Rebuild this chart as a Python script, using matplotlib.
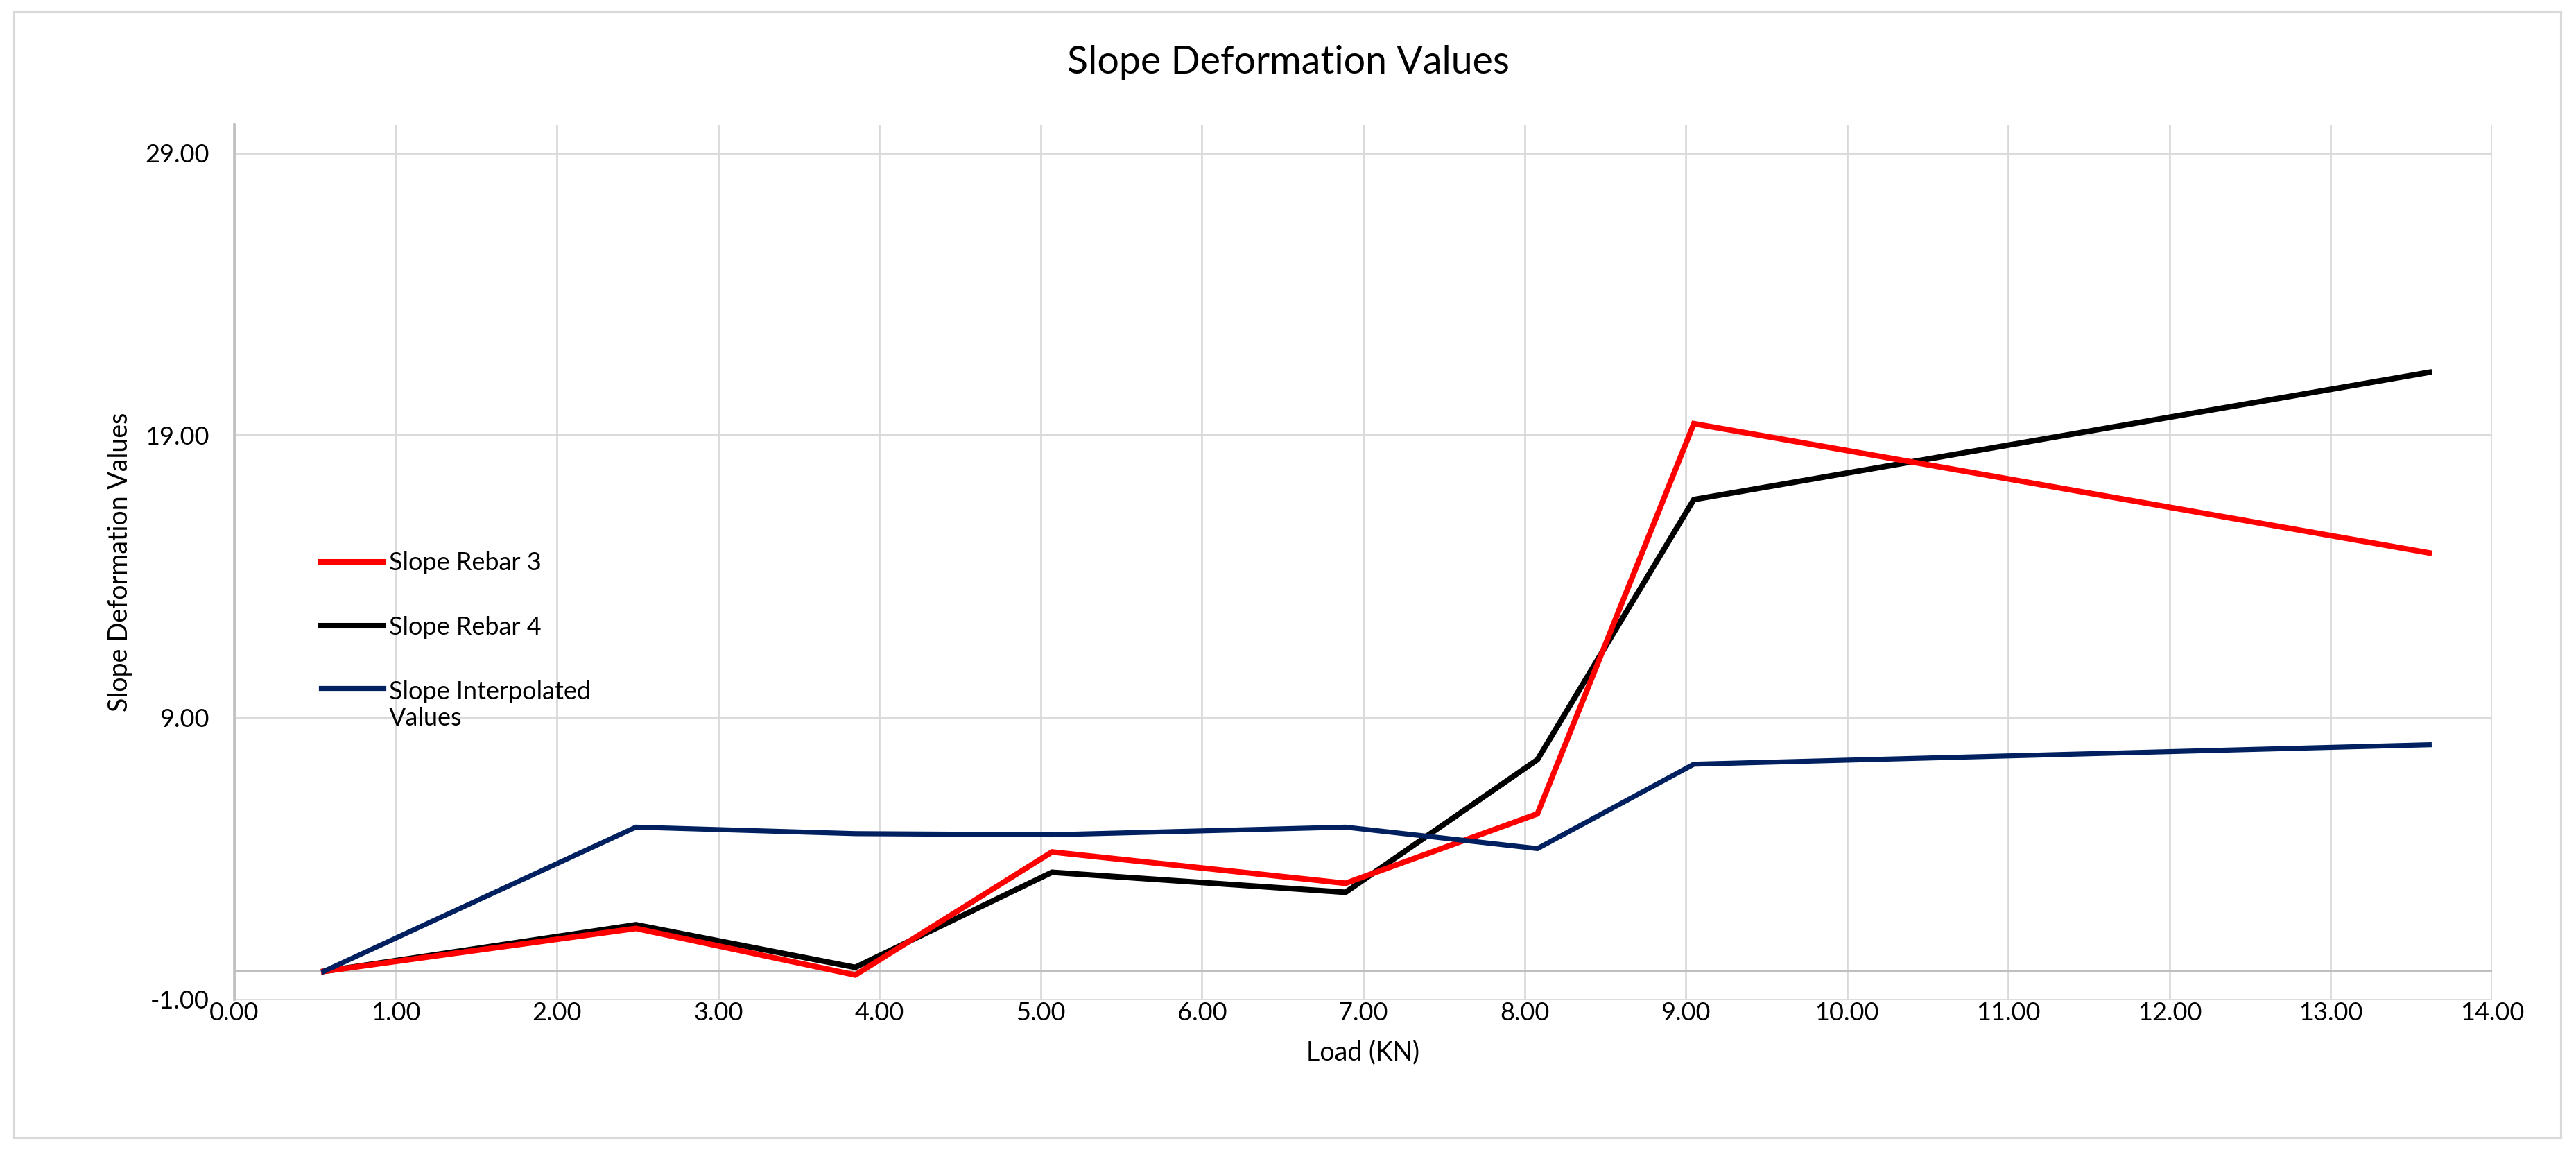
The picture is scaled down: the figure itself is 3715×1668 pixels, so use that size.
import matplotlib
matplotlib.use("Agg")
import matplotlib.pyplot as plt
from matplotlib.patches import Rectangle
from matplotlib.ticker import FormatStrFormatter

plt.rcParams['font.family'] = ['Lato', 'DejaVu Sans']

# ---- data ----
load_kn = [0.555, 2.49, 3.85, 5.07, 6.89, 8.08, 9.05, 13.61]
slope_rebar_3 = [0.0, 1.52, -0.13, 4.23, 3.12, 5.58, 19.41, 14.83]
slope_rebar_4 = [0.0, 1.65, 0.14, 3.51, 2.80, 7.50, 16.72, 21.23]
slope_interp = [0.0, 5.11, 4.88, 4.84, 5.11, 4.35, 7.34, 8.03]
series_labels = ["Slope Rebar 3", "Slope Rebar 4", "Slope Interpolated\nValues"]
x_ticks = list(range(0, 15))
y_ticks = [-1, 9, 19, 29]

title = "Slope Deformation Values"
x_label = "Load (KN)"
y_label = "Slope Deformation Values"

W, H = 3716, 1668
fig = plt.figure(figsize=(W / 100, H / 100), dpi=100)
fig.patch.set_facecolor("white")

# outer chart border
fig.patches.append(Rectangle((20 / W, 1 - 1640 / H), 3673 / W, (1640 - 17) / H,
                             transform=fig.transFigure, fill=False,
                             edgecolor="#D9D9D9", linewidth=2.2, zorder=0))

ax = fig.add_axes([338 / W, 1 - 1441 / H, (3594 - 338) / W, (1441 - 180) / H])

ax.plot(load_kn, slope_rebar_3, color="#FF0000", lw=5.8, label=series_labels[0],
        solid_joinstyle="miter", zorder=4)
ax.plot(load_kn, slope_rebar_4, color="#000000", lw=5.8, label=series_labels[1],
        solid_joinstyle="miter", zorder=3)
ax.plot(load_kn, slope_interp, color="#002060", lw=5.2, label=series_labels[2],
        solid_joinstyle="miter", zorder=5)

ax.set_xlim(0, 14)
ax.set_ylim(-1, 30)
ax.set_xticks(x_ticks)
ax.set_yticks(y_ticks)
ax.xaxis.set_major_formatter(FormatStrFormatter("%.2f"))
ax.yaxis.set_major_formatter(FormatStrFormatter("%.2f"))

ax.grid(True, color="#D9D9D9", lw=2.0, zorder=0)
ax.set_axisbelow(True)
ax.axhline(0, color="#BFBFBF", lw=2.6, zorder=1)

for s in ["top", "right", "bottom"]:
    ax.spines[s].set_visible(False)
ax.spines["left"].set_color("#BFBFBF")
ax.spines["left"].set_linewidth(2.6)

ax.tick_params(axis="both", length=0, labelsize=26, colors="#000000")
ax.tick_params(axis="x", pad=2)
ax.tick_params(axis="y", pad=26)

ax.set_xlabel(x_label, fontsize=27)
ax.xaxis.label.set_va("center")
ax.xaxis.set_label_coords(0.5, -0.0603)
ax.set_ylabel(y_label, fontsize=27)
ax.yaxis.label.set_va("center")
ax.yaxis.set_label_coords(-0.0507, 0.5)

fig.text(0.5, 1 - 90 / H, title, ha="center", va="center", fontsize=40)

leg = ax.legend(loc="upper left", bbox_to_anchor=(0.0384, 0.512), frameon=False,
                fontsize=26, handlelength=2.5, handletextpad=0.22,
                labelspacing=1.65, borderpad=0, borderaxespad=0)
# align the wrapped entry's line sample with its first text line (as in Excel)
h3 = leg.legend_handles[2]
h3.set_ydata([v + 18.0 for v in h3.get_ydata()])

fig.savefig("out.png", dpi=100, facecolor="white")
